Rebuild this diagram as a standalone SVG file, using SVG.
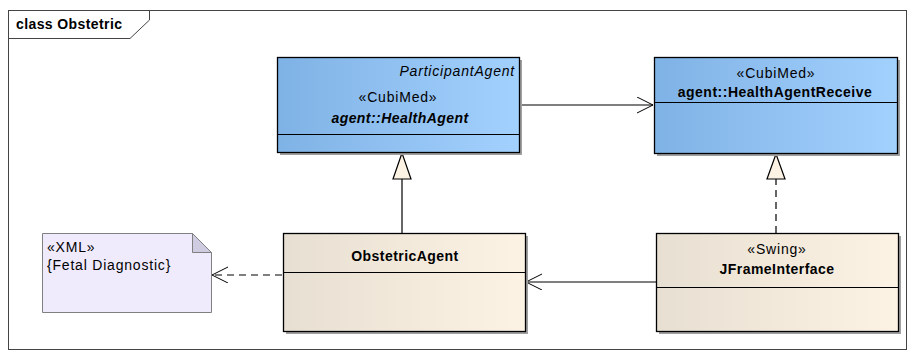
<svg xmlns="http://www.w3.org/2000/svg" width="916" height="358" viewBox="0 0 916 358">
<defs>
<linearGradient id="blue" x1="0" y1="0" x2="1" y2="0">
<stop offset="0" stop-color="#7fb2e5"/>
<stop offset="1" stop-color="#a3d1fe"/>
</linearGradient>
<linearGradient id="beige" x1="0" y1="0" x2="1" y2="0">
<stop offset="0" stop-color="#e7dfd1"/>
<stop offset="1" stop-color="#fdf3e5"/>
</linearGradient>
<marker id="open" markerWidth="20" markerHeight="20" refX="16" refY="8" orient="auto" markerUnits="userSpaceOnUse">
<path d="M0,0 L16,8 L0,16" fill="none" stroke="#000" stroke-width="1"/>
</marker>
</defs>
<style>
text{font-family:"Liberation Sans",Arial,sans-serif;font-size:14px;fill:#000;letter-spacing:0.8px}
.b{font-weight:bold;letter-spacing:0.45px}
.i{font-style:italic}
.box{stroke:#000;stroke-width:1.3}
.sh{fill:#a0a0a0}
.ln{stroke:#000;stroke-width:1.2;fill:none}
</style>
<rect x="0" y="0" width="916" height="358" fill="#fff"/>
<g id="frame">
<rect x="8.5" y="10.5" width="898" height="339" fill="none" stroke="#444" stroke-width="1"/>
<path d="M8.5,38.5 H130 L149.5,20 V10.5" fill="none" stroke="#444" stroke-width="1"/>
<text x="16" y="29" class="b" style="letter-spacing:0.4px">class Obstetric</text>
</g>
<g id="connectors">
<line x1="519" y1="105" x2="653" y2="105" class="ln" marker-end="url(#open)"/>
<line x1="402" y1="233" x2="402" y2="179" class="ln"/>
<path d="M402,153 L393,179 L411,179 Z" fill="#fdf3e5" stroke="#000" stroke-width="1.2"/>
<line x1="776" y1="233" x2="776" y2="179" class="ln" stroke-dasharray="7,5"/>
<path d="M776,154 L767,179 L785,179 Z" fill="#fdf3e5" stroke="#000" stroke-width="1.2"/>
<line x1="656" y1="282" x2="526" y2="282" class="ln" marker-end="url(#open)"/>
<line x1="282" y1="275" x2="212" y2="275" class="ln" stroke-dasharray="7,5" marker-end="url(#open)"/>
</g>
<g id="HealthAgent">
<rect x="280" y="60" width="242" height="95" class="sh"/>
<rect x="277.5" y="57.5" width="242" height="95" fill="url(#blue)" class="box"/>
<line x1="277.5" y1="134.5" x2="519.5" y2="134.5" stroke="#000" stroke-width="1.2"/>
<text x="515" y="76" class="i" text-anchor="end">ParticipantAgent</text>
<text x="398" y="102" text-anchor="middle">«CubiMed»</text>
<text x="400" y="123" class="b i" text-anchor="middle">agent::HealthAgent</text>
</g>
<g id="HealthAgentReceive">
<rect x="657" y="60" width="243" height="96" class="sh"/>
<rect x="654.5" y="57.5" width="243" height="96" fill="url(#blue)" class="box"/>
<line x1="654.5" y1="102.5" x2="897.5" y2="102.5" stroke="#000" stroke-width="1.2"/>
<text x="776" y="78" text-anchor="middle">«CubiMed»</text>
<text x="775" y="97" class="b" text-anchor="middle" style="letter-spacing:0.5px">agent::HealthAgentReceive</text>
</g>
<g id="ObstetricAgent">
<rect x="286" y="236" width="242" height="98" class="sh"/>
<rect x="283.5" y="233.5" width="242" height="98" fill="url(#beige)" class="box"/>
<line x1="283.5" y1="272.5" x2="525.5" y2="272.5" stroke="#000" stroke-width="1.2"/>
<text x="405" y="261" class="b" text-anchor="middle">ObstetricAgent</text>
</g>
<g id="JFrameInterface">
<rect x="659" y="236" width="242" height="98" class="sh"/>
<rect x="656.5" y="233.5" width="242" height="98" fill="url(#beige)" class="box"/>
<line x1="656.5" y1="287.5" x2="898.5" y2="287.5" stroke="#000" stroke-width="1.2"/>
<text x="777" y="254" text-anchor="middle">«Swing»</text>
<text x="777" y="274" class="b" text-anchor="middle">JFrameInterface</text>
</g>
<g id="note">
<path d="M42.5,233.5 H192.5 L211.5,252.5 V312.5 H42.5 Z" fill="#efebfc" stroke="#808080" stroke-width="1"/>
<path d="M192.5,233.5 V252.5 H211.5 Z" fill="#cfcbe0" stroke="#808080" stroke-width="1"/>
<text x="47" y="252">«XML»</text>
<text x="47" y="270">{Fetal Diagnostic}</text>
</g>
</svg>
